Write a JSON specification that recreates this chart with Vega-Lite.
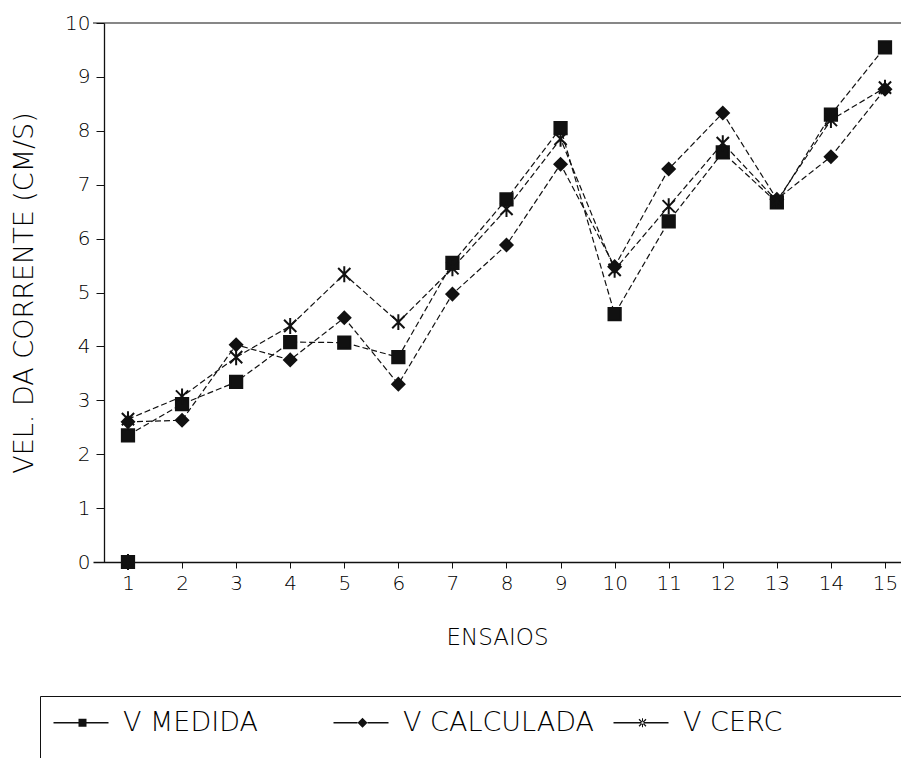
{
  "$schema": "https://vega.github.io/schema/vega-lite/v6.json",
  "autosize": "none",
  "width": 808,
  "height": 539,
  "padding": {"left": 93, "top": 23, "right": 0, "bottom": 196},
  "background": "white",
  "config": {
    "view": {"stroke": null},
    "font": "DejaVu Sans",
    "axis": {"labelColor": "#000", "titleColor": "#000", "domainColor": "#111", "tickColor": "#111", "titleFontWeight": 200, "labelFontWeight": 200, "labelFont": "DejaVu Sans", "titleFont": "DejaVu Sans"},
    "legend": {"labelFont": "DejaVu Sans", "labelColor": "#000", "labelFontWeight": 200}
  },
  "datasets": {
    "serie": [
      {"ensaio": 1, "serie": "V MEDIDA", "v": 2.35},
      {"ensaio": 2, "serie": "V MEDIDA", "v": 2.93},
      {"ensaio": 3, "serie": "V MEDIDA", "v": 3.34},
      {"ensaio": 4, "serie": "V MEDIDA", "v": 4.08},
      {"ensaio": 5, "serie": "V MEDIDA", "v": 4.07},
      {"ensaio": 6, "serie": "V MEDIDA", "v": 3.8},
      {"ensaio": 7, "serie": "V MEDIDA", "v": 5.55},
      {"ensaio": 8, "serie": "V MEDIDA", "v": 6.73},
      {"ensaio": 9, "serie": "V MEDIDA", "v": 8.05},
      {"ensaio": 10, "serie": "V MEDIDA", "v": 4.6},
      {"ensaio": 11, "serie": "V MEDIDA", "v": 6.32},
      {"ensaio": 12, "serie": "V MEDIDA", "v": 7.6},
      {"ensaio": 13, "serie": "V MEDIDA", "v": 6.67},
      {"ensaio": 14, "serie": "V MEDIDA", "v": 8.3},
      {"ensaio": 15, "serie": "V MEDIDA", "v": 9.55},
      {"ensaio": 1, "serie": "V CALCULADA", "v": 2.6},
      {"ensaio": 2, "serie": "V CALCULADA", "v": 2.63},
      {"ensaio": 3, "serie": "V CALCULADA", "v": 4.03},
      {"ensaio": 4, "serie": "V CALCULADA", "v": 3.75},
      {"ensaio": 5, "serie": "V CALCULADA", "v": 4.53},
      {"ensaio": 6, "serie": "V CALCULADA", "v": 3.3},
      {"ensaio": 7, "serie": "V CALCULADA", "v": 4.97},
      {"ensaio": 8, "serie": "V CALCULADA", "v": 5.88},
      {"ensaio": 9, "serie": "V CALCULADA", "v": 7.38},
      {"ensaio": 10, "serie": "V CALCULADA", "v": 5.48},
      {"ensaio": 11, "serie": "V CALCULADA", "v": 7.29},
      {"ensaio": 12, "serie": "V CALCULADA", "v": 8.33},
      {"ensaio": 13, "serie": "V CALCULADA", "v": 6.73},
      {"ensaio": 14, "serie": "V CALCULADA", "v": 7.52},
      {"ensaio": 15, "serie": "V CALCULADA", "v": 8.77},
      {"ensaio": 1, "serie": "V CERC", "v": 2.65},
      {"ensaio": 2, "serie": "V CERC", "v": 3.07},
      {"ensaio": 3, "serie": "V CERC", "v": 3.8},
      {"ensaio": 4, "serie": "V CERC", "v": 4.38},
      {"ensaio": 5, "serie": "V CERC", "v": 5.34},
      {"ensaio": 6, "serie": "V CERC", "v": 4.45},
      {"ensaio": 7, "serie": "V CERC", "v": 5.45},
      {"ensaio": 8, "serie": "V CERC", "v": 6.55},
      {"ensaio": 9, "serie": "V CERC", "v": 7.85},
      {"ensaio": 10, "serie": "V CERC", "v": 5.42},
      {"ensaio": 11, "serie": "V CERC", "v": 6.6},
      {"ensaio": 12, "serie": "V CERC", "v": 7.77},
      {"ensaio": 13, "serie": "V CERC", "v": 6.7},
      {"ensaio": 14, "serie": "V CERC", "v": 8.2},
      {"ensaio": 15, "serie": "V CERC", "v": 8.8}
    ],
    "avulsos": [
      {"ensaio": 1, "serie": "V MEDIDA", "v": 0},
      {"ensaio": 1, "serie": "V CERC", "v": 0}
    ],
    "moldura": [{"topo": 10}]
  },
  "resolve": {"scale": {"shape": "independent"}, "legend": {"shape": "independent"}},
  "layer": [
    {
      "data": {"name": "moldura"},
      "mark": {"type": "rule", "color": "#111", "strokeWidth": 1.2},
      "encoding": {"y": {"field": "topo", "type": "quantitative"}}
    },
    {
      "data": {"name": "serie"},
      "mark": {"type": "line", "color": "#111", "strokeWidth": 1.2, "strokeDash": [6, 3]},
      "encoding": {
        "x": {
          "field": "ensaio", "type": "quantitative",
          "scale": {"domain": [0.353, 15.296], "nice": false, "zero": false},
          "axis": {
            "title": "ENSAIOS", "values": [1,2,3,4,5,6,7,8,9,10,11,12,13,14,15], "format": "d",
            "grid": false, "tickSize": 6, "labelFontSize": 20, "labelPadding": 5,
            "titleFontSize": 23, "titlePadding": 33, "domainWidth": 1.3
          }
        },
        "y": {
          "field": "v", "type": "quantitative",
          "scale": {"domain": [0, 10], "nice": false},
          "axis": {
            "title": "VEL. DA CORRENTE (CM/S)", "values": [0,1,2,3,4,5,6,7,8,9,10],
            "grid": false, "tickSize": 8, "offset": -11, "labelFontSize": 20, "labelPadding": 6,
            "titleFontSize": 27, "titlePadding": 26, "domainWidth": 1.3
          }
        },
        "detail": {"field": "serie"}
      }
    },
    {
      "data": {"name": "serie"},
      "mark": {"type": "point", "filled": true, "color": "#111", "stroke": "#111", "strokeWidth": 2, "size": 150, "opacity": 1},
      "encoding": {
        "x": {"field": "ensaio", "type": "quantitative"},
        "y": {"field": "v", "type": "quantitative"},
        "shape": {
          "field": "serie", "type": "nominal",
          "scale": {
            "domain": ["V MEDIDA", "V CALCULADA", "V CERC"],
            "range": ["square", "diamond", "M-1,-1L1,1M-1,1L1,-1M0,-1.3V1.3"]
          },
          "legend": null
        }
      }
    },
    {
      "data": {"name": "avulsos"},
      "mark": {"type": "point", "filled": true, "color": "#111", "stroke": "#111", "strokeWidth": 2, "size": 150, "opacity": 1},
      "encoding": {
        "x": {"field": "ensaio", "type": "quantitative"},
        "y": {"field": "v", "type": "quantitative"},
        "shape": {
          "field": "serie", "type": "nominal",
          "scale": {
            "domain": ["V MEDIDA", "V CALCULADA", "V CERC"],
            "range": ["square", "diamond", "M-1,-1L1,1M-1,1L1,-1M0,-1.3V1.3"]
          },
          "legend": null
        }
      }
    },
    {
      "data": {"name": "serie"},
      "mark": {"type": "point", "filled": true, "color": "#111", "opacity": 0},
      "encoding": {
        "x": {"field": "ensaio", "type": "quantitative"},
        "y": {"field": "v", "type": "quantitative"},
        "shape": {
          "field": "serie", "type": "nominal",
          "scale": {
            "domain": ["V MEDIDA", "V CALCULADA", "V CERC"],
            "range": [
              "M-2.6,-0.14H2.4V0.14H-2.6ZM4,-0.14H8.4V0.14H4ZM2.4,-0.8H4V0.8H2.4Z",
              "M-2.6,-0.14H2.2V0.14H-2.6ZM4.2,-0.14H8.4V0.14H4.2ZM3.2,-1L4.2,0L3.2,1L2.2,0Z",
              "M-2.6,-0.14H8.4V0.14H-2.6ZM2.415,-0.615L3.815,0.785L3.985,0.615L2.585,-0.785ZM2.415,0.615L2.585,0.785L3.985,-0.615L3.815,-0.785ZM3.1,-0.9H3.3V0.9H3.1Z"
            ]
          },
          "legend": {
            "orient": "none", "legendX": -53, "legendY": 673,
            "direction": "horizontal", "columns": 3, "gridAlign": "all", "columnPadding": 16,
            "title": " ", "titleOrient": "right", "titleFontSize": 50, "titlePadding": 120,
            "padding": 13, "strokeColor": "#111",
            "symbolSize": 100, "symbolOpacity": 1, "symbolFillColor": "#111",
            "labelFontSize": 27, "labelOffset": 43, "labelLimit": 400
          }
        }
      }
    }
  ]
}
